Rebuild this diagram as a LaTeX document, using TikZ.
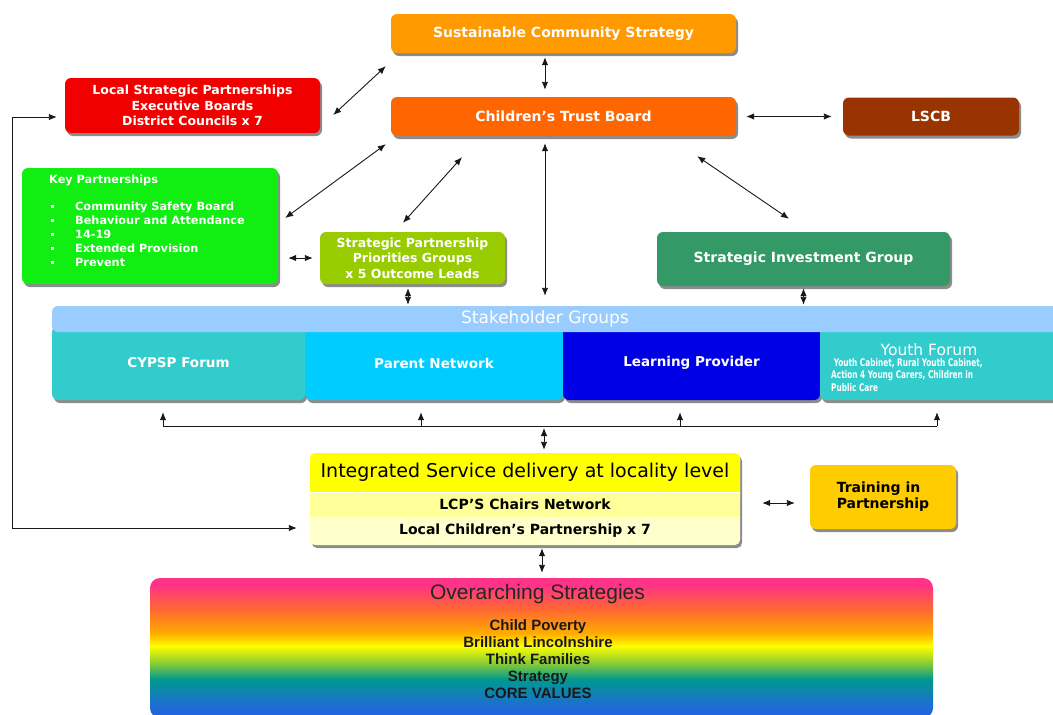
\documentclass[tikz,border=0pt]{standalone}
\usepackage{fontspec}
\setmainfont{DejaVu Sans}
\newfontfamily\lib{Liberation Sans}
\newfontfamily\ycond[FakeStretch=0.7]{DejaVu Sans}
\usetikzlibrary{shadows,arrows.meta}
\definecolor{sustC}{HTML}{FF9A00}
\definecolor{ctbC}{HTML}{FF6600}
\definecolor{lscbC}{HTML}{993300}
\definecolor{lspC}{HTML}{F20000}
\definecolor{kpC}{HTML}{11EE11}
\definecolor{sppgC}{HTML}{99CC00}
\definecolor{sigC}{HTML}{339966}
\definecolor{barC}{HTML}{99CCFF}
\definecolor{cypC}{HTML}{33CCCC}
\definecolor{parC}{HTML}{00CCFF}
\definecolor{lrnC}{HTML}{0000E6}
\definecolor{isdC}{HTML}{FFFF00}
\definecolor{lcpchC}{HTML}{FFFF99}
\definecolor{lcpC}{HTML}{FFFFCC}
\definecolor{trainC}{HTML}{FFCC00}
\definecolor{shadowgray}{HTML}{8C8C8C}
\definecolor{rbBlue}{HTML}{2266DD}
\definecolor{rbTeal}{HTML}{00998F}
\definecolor{rbGreen}{HTML}{88CC33}
\definecolor{rbYellow}{HTML}{FFFF00}
\definecolor{rbOrange}{HTML}{FFAA00}
\definecolor{rbRed}{HTML}{FF6633}
\definecolor{rbPink}{HTML}{FF3388}
\pgfdeclareverticalshading{rainbow}{100bp}{color(0bp)=(rbBlue); color(25bp)=(rbBlue); color(27.9bp)=(rbBlue); color(38.8bp)=(rbTeal); color(44.6bp)=(rbGreen); color(50.7bp)=(rbYellow); color(55.4bp)=(rbOrange); color(64.1bp)=(rbRed); color(72.5bp)=(rbPink); color(75bp)=(rbPink); color(100bp)=(rbPink)}
\newcommand\kpbul{\makebox[26pt][l]{\hspace{2pt}\rule[2.5pt]{3pt}{3pt}}}
\begin{document}
\begin{tikzpicture}[x=1pt,y=-1pt,
  box/.style={rounded corners=6pt, inner sep=0pt, align=center, text=white,
    font=\bfseries\fontsize{14}{16}\selectfont,
    drop shadow={shadow xshift=2pt, shadow yshift=-3pt, fill=shadowgray, opacity=1}},
  cell/.style={rounded corners=6pt, inner sep=0pt, minimum height=74pt, text=white,
    font=\bfseries\fontsize{13.5}{16}\selectfont,
    drop shadow={shadow xshift=2pt, shadow yshift=-3pt, fill=shadowgray, opacity=1}},
  txt/.style={inner sep=0pt, align=center},
  dbl/.style={{Latex[length=8pt,width=6.5pt]}-{Latex[length=8pt,width=6.5pt]}, line width=0.9pt, draw=black!90},
  one/.style={-{Latex[length=8pt,width=6.5pt]}, line width=0.9pt, draw=black!90},
  ]
\useasboundingbox (0,0) rectangle (1053,715);
\fill[white] (0,0) rectangle (1053,715);
\clip (0,0) rectangle (1053,715);

% top boxes
\node[box, fill=sustC, minimum width=345pt, minimum height=39pt] (sust) at (563.5,33.5) {Sustainable Community Strategy};
\node[box, fill=ctbC, minimum width=345pt, minimum height=39pt] (ctb) at (563.5,116.5) {Children’s Trust Board};
\node[box, fill=lscbC, minimum width=176pt, minimum height=38pt] (lscb) at (931,116.5) {LSCB};
\node[box, fill=lspC, minimum width=255pt, minimum height=55pt, font=\bfseries\fontsize{12.5}{15.5}\selectfont] (lsp) at (192.5,105.5) {Local Strategic Partnerships\\Executive Boards\\District Councils x 7};
\node[box, fill=kpC, minimum width=256pt, minimum height=116pt] (kp) at (150,226) {};
\node[txt, anchor=north west, align=left, text=white, font=\bfseries\fontsize{11.3}{14}\selectfont] (kptx) at (49,175) {Key Partnerships\\[13pt]\kpbul Community Safety Board\\\kpbul Behaviour and Attendance\\\kpbul 14-19\\\kpbul Extended Provision\\\kpbul Prevent};
\node[box, fill=sppgC, minimum width=185pt, minimum height=52pt, font=\bfseries\fontsize{12.5}{15.5}\selectfont] (sppg) at (412.5,258) {Strategic Partnership\\Priorities Groups\\x 5 Outcome Leads};
\node[box, fill=sigC, minimum width=293pt, minimum height=54pt] (sig) at (803.5,259) {Strategic Investment Group};

% stakeholder cells
\node[cell, fill=cypC, minimum width=253pt] (cyp) at (178.5,363) {CYPSP Forum};
\node[cell, fill=parC, minimum width=258pt] (par) at (434,363) {Parent Network};
\node[cell, fill=lrnC, minimum width=257pt] (lrn) at (691.5,363) {Learning Provider};
\node[cell, fill=cypC, minimum width=242pt] (yth) at (941,363) {};
\node[txt, text=white, font=\fontsize{15.5}{17}\selectfont] (ytitle) at (929,350) {Youth Forum};
\node[txt, anchor=north west, align=left, text=white, font=\ycond\bfseries\fontsize{10.5}{12.5}\selectfont] (ysub) at (831,358) {\ Youth Cabinet, Rural Youth Cabinet,\\Action 4 Young Carers, Children in\\Public Care};
\fill[barC, rounded corners=6pt] (52,306) rectangle (1075,332);
\node[txt, minimum height=26pt, text=white, font=\fontsize{17}{19}\selectfont] (bar) at (545,319) {Stakeholder Groups};

% integrated service group
\fill[shadowgray, rounded corners=5pt] (312,456) rectangle (742,548);
\fill[lcpC, rounded corners=5pt] (310,453) rectangle (740,545);
\fill[isdC, rounded corners=5pt] (310,453) rectangle (740,505);
\fill[lcpchC] (310,492) rectangle (740,517);
\draw[white, line width=1pt] (310,492) -- (740,492) (310,517) -- (740,517);
\node[txt, minimum width=430pt, minimum height=39pt, font=\fontsize{19}{21}\selectfont] (isd) at (525,472.5) {Integrated Service delivery at locality level};
\node[txt, minimum width=430pt, minimum height=25pt, font=\bfseries\fontsize{14}{16}\selectfont] (lcpch) at (525,504.5) {LCP’S Chairs Network};
\node[txt, minimum width=430pt, minimum height=28pt, font=\bfseries\fontsize{14}{16}\selectfont] (lcp) at (525,531) {Local Children’s Partnership x 7};
\node[box, fill=trainC, text=black, align=left, minimum width=146pt, minimum height=64pt] (train) at (883,497) {Training in\\Partnership};

% overarching
\node[shade, shading=rainbow, rounded corners=10pt, inner sep=0pt, minimum width=783pt, minimum height=140pt] (over) at (541.5,648) {};
\node[txt, font=\lib\fontsize{21}{23}\selectfont, text=black!85] (ovt) at (537.5,594) {Overarching Strategies};
\node[txt, font=\lib\bfseries\fontsize{15}{17}\selectfont, text=black!90] (ovl) at (538,659) {Child Poverty\\Brilliant Lincolnshire\\Think Families\\Strategy\\CORE VALUES};

% connectors
\draw[dbl] ([xshift=-18.5pt,yshift=-4pt]sust.south) -- ([xshift=-18.5pt,yshift=7pt]ctb.north);
\draw[dbl] ([xshift=13pt,yshift=-9.5pt]lsp.east) -- ([xshift=-5pt,yshift=-13pt]sust.south west);
\draw[dbl] ([xshift=10pt]ctb.east) -- ([xshift=-11pt]lscb.west);
\draw[dbl] ([xshift=-5pt,yshift=-8pt]ctb.south west) -- ([xshift=7pt,yshift=8pt]kp.east);
\draw[dbl] ([xshift=-101.5pt,yshift=-21pt]ctb.south) -- ([xshift=-9.5pt,yshift=9pt]sppg.north);
\draw[dbl] ([xshift=-18.5pt,yshift=-7pt]ctb.south) -- ([yshift=10pt]bar.north);
\draw[dbl] ([xshift=-39pt,yshift=-20pt]ctb.south east) -- ([xshift=-14.5pt,yshift=13pt]sig.north);
\draw[dbl] ([xshift=10pt,yshift=-32pt]kp.east) -- ([xshift=-7pt]sppg.west);
\draw[dbl] ([xshift=-4.5pt,yshift=-4pt]sppg.south) -- ([xshift=-137pt,yshift=1pt]bar.north);
\draw[dbl] ([yshift=-2pt]sig.south) -- ([xshift=258.5pt,yshift=1pt]bar.north);

\coordinate (h1) at (163,426);
\coordinate (h2) at (421,426);
\coordinate (h3) at (680,426);
\coordinate (h4) at (937,426);
\coordinate (hm) at (544,426);
\draw[line width=0.9pt, draw=black!90] (h1) -- (h4);
\draw[one, shorten >=12pt] (h1) -- (h1 |- cyp.south);
\draw[one, shorten >=12pt] (h2) -- (h2 |- par.south);
\draw[one, shorten >=12pt] (h3) -- (h3 |- lrn.south);
\draw[one, shorten >=12pt] (h4) -- (h4 |- yth.south);
\draw[dbl, shorten <=2pt, shorten >=3pt] (hm) -- (hm |- isd.north);
\draw[dbl] ([xshift=22pt,yshift=1.5pt]lcpch.east) -- ([xshift=-15pt,yshift=-6pt]train.west);
\draw[dbl] ([xshift=17pt,yshift=-3pt]lcp.south) -- ([xshift=0.5pt,yshift=5pt]over.north);

\coordinate (fb1) at (12,117);
\coordinate (fb2) at (12,528);
\draw[dbl] ([xshift=-8pt,yshift=-11.5pt]lsp.west) -- (fb1) -- (fb2) -- ([xshift=-13pt,yshift=3pt]lcp.west);
\end{tikzpicture}
\end{document}
